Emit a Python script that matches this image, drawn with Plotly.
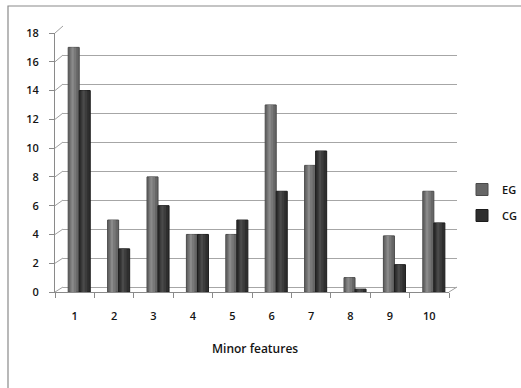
import plotly.graph_objects as go

categories = [1, 2, 3, 4, 5, 6, 7, 8, 9, 10]
tick_labels = ["1", "2", "3", "4", "5", "6", "7", "8", "9", "10"]
eg_values = [17, 5, 8, 4, 4, 13, 8.8, 1, 3.9, 7]
cg_values = [14, 3, 6, 4, 5, 7, 9.8, 0.2, 1.9, 4.8]
y_ticks = [0, 2, 4, 6, 8, 10, 12, 14, 16, 18]
series_names = ["EG", "CG"]
x_title = "Minor features"

W, H = 521, 388
ML, MR, MT, MB = 55, 64, 26, 96
PW, PH = W - ML - MR, H - MT - MB
DX, DY = 8, 5  # depth offset in px
front_x_dom = [0, 1 - DX / PW]
front_y_dom = [0, 1 - 7 / PH]
back_x_dom = [DX / PW, 1]
back_y_dom = [DY / PH, 1]

FONT = "Open Sans"
TXT = "#141414"

fig = go.Figure()

# back wall (grid) subplot: invisible anchor trace
fig.add_trace(go.Scatter(x=categories, y=eg_values, mode="markers",
                         marker=dict(opacity=0), showlegend=False,
                         hoverinfo="skip", xaxis="x", yaxis="y"))

bw = 0.28
eg_off = -0.165
cg_off = eg_off + bw

def cyl(name, vals, off, base, mid, hi, edge, group):
    fig.add_trace(go.Bar(x=categories, y=vals, name=name, width=bw, offset=off,
                         marker=dict(color=base, line=dict(color=edge, width=1)),
                         xaxis="x2", yaxis="y2", legendgroup=group))
    fig.add_trace(go.Bar(x=categories, y=vals, width=bw * 0.55, offset=off + bw * 0.18,
                         marker=dict(color=mid, line=dict(width=0)), showlegend=False,
                         hoverinfo="skip", xaxis="x2", yaxis="y2"))
    fig.add_trace(go.Bar(x=categories, y=vals, width=bw * 0.2, offset=off + bw * 0.3,
                         marker=dict(color=hi, line=dict(width=0)), showlegend=False,
                         hoverinfo="skip", xaxis="x2", yaxis="y2"))

cyl(series_names[0], eg_values, eg_off, "#666666", "#787878", "#8a8a8a", "#4a4a4a", "g1")
cyl(series_names[1], cg_values, cg_off, "#2e2e2e", "#3c3c3c", "#4a4a4a", "#1c1c1c", "g2")

shapes = []
# outer frame
shapes.append(dict(type="rect", xref="paper", yref="paper",
                   x0=(8 - ML) / PW, x1=(W + 20 - ML) / PW,
                   y0=-(MB + 20) / PH, y1=1 + (MT - 6) / PH,
                   line=dict(color="#8a8a8a", width=1.2), fillcolor="rgba(0,0,0,0)", layer="below"))
# depth diagonals at the y ticks
for v in y_ticks:
    yf = front_y_dom[0] + v / 18 * (front_y_dom[1] - front_y_dom[0])
    yb = back_y_dom[0] + v / 18 * (back_y_dom[1] - back_y_dom[0])
    shapes.append(dict(type="line", xref="paper", yref="paper", x0=0, x1=back_x_dom[0],
                       y0=yf, y1=yb, line=dict(color="#a0a0a0", width=1), layer="below"))
# floor right edge
shapes.append(dict(type="line", xref="paper", yref="paper", x0=front_x_dom[1], x1=1,
                   y0=0, y1=back_y_dom[0], line=dict(color="#a0a0a0", width=1), layer="below"))

fig.update_layout(
    width=W, height=H,
    margin=dict(l=ML, r=MR, t=MT, b=MB, autoexpand=False),
    paper_bgcolor="white", plot_bgcolor="rgba(0,0,0,0)",
    font=dict(family=FONT, size=11, color=TXT),
    barmode="overlay",
    showlegend=True,
    legend=dict(x=(462 - ML) / PW, y=(H - MB - 175) / PH, xanchor="left", yanchor="top",
                tracegroupgap=7, traceorder="grouped", bgcolor="rgba(0,0,0,0)",
                font=dict(family=FONT, size=11, color=TXT, weight=600)),
    xaxis=dict(domain=back_x_dom, anchor="y", range=[0.5, 10.5], visible=False),
    yaxis=dict(domain=back_y_dom, anchor="x", range=[0, 18], tickvals=y_ticks,
               showgrid=True, gridcolor="#a6a6a6", gridwidth=1.3,
               zeroline=True, zerolinecolor="#a6a6a6", zerolinewidth=1.3,
               showticklabels=False, ticks="", showline=False),
    xaxis2=dict(domain=front_x_dom, anchor="y2", range=[0.5, 10.5],
                tickvals=categories, ticktext=tick_labels, ticks="",
                showgrid=False, zeroline=False, showline=True, linecolor="#8a8a8a", linewidth=1,
                minor=dict(ticks="outside", tick0=0.5, dtick=1, ticklen=5, tickcolor="#8a8a8a",
                           showgrid=False),
                ticklabelstandoff=14, tickfont=dict(size=11, color=TXT, weight=600),
                fixedrange=True),
    yaxis2=dict(domain=front_y_dom, anchor="x2", range=[0, 18], tickvals=y_ticks,
                ticks="outside", ticklen=5, tickcolor="#8a8a8a",
                showgrid=False, zeroline=False, showline=True, linecolor="#8a8a8a", linewidth=1,
                ticklabelstandoff=8, tickfont=dict(size=11, color=TXT, weight=600), fixedrange=True),
    shapes=shapes,
    annotations=[dict(text=x_title, xref="paper", yref="paper",
                      x=(255 - ML) / PW, y=-(348 - (H - MB)) / PH, xanchor="center", yanchor="middle",
                      showarrow=False, font=dict(family=FONT, size=12, color=TXT, weight=600))],
)

fig.write_html("out.html")
